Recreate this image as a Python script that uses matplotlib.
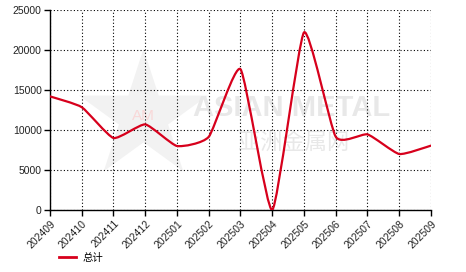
import matplotlib
matplotlib.use("Agg")
import matplotlib.pyplot as plt
from matplotlib.path import Path
from matplotlib.patches import PathPatch
from matplotlib.lines import Line2D

categories = ["202409", "202410", "202411", "202412", "202501", "202502", "202503",
              "202504", "202505", "202506", "202507", "202508", "202509"]
values = [14200, 12850, 9000, 10700, 8000, 9150, 17600, 0, 22200, 9150, 9450, 7000, 8050]
series_name = "总计"
yticks = [0, 5000, 10000, 15000, 20000, 25000]

LINE_COLOR = "#d7001c"


def spline_path(xs, ys, k=0.085):
    """Cardinal spline drawn as cubic Bezier segments through the data points."""
    n = len(xs)
    verts = [(xs[0], ys[0])]
    codes = [Path.MOVETO]
    for i in range(n - 1):
        i0 = max(i - 1, 0)
        i3 = min(i + 2, n - 1)
        c1 = (xs[i] + (xs[i + 1] - xs[i0]) * k, ys[i] + (ys[i + 1] - ys[i0]) * k)
        c2 = (xs[i + 1] - (xs[i3] - xs[i]) * k, ys[i + 1] - (ys[i3] - ys[i]) * k)
        verts += [c1, c2, (xs[i + 1], ys[i + 1])]
        codes += [Path.CURVE4, Path.CURVE4, Path.CURVE4]
    return Path(verts, codes)


fig = plt.figure(figsize=(4.66, 2.72), dpi=100)
ax = fig.add_axes([50 / 466, 62 / 272, 381 / 466, 200 / 272])

xs = list(range(len(categories)))

# watermark
ax.scatter([0.245], [0.47], marker="*", s=9500, color="#f2f2f2", transform=ax.transAxes,
           zorder=0, linewidths=0)
ax.text(0.245, 0.47, "AM", transform=ax.transAxes, ha="center", va="center",
        fontsize=11, color="#f9d8d8", zorder=0, family="Liberation Sans")
ax.text(0.635, 0.51, "ASIAN METAL", transform=ax.transAxes, ha="center", va="center",
        fontsize=21, color="#e8e8e8", zorder=0, family="Liberation Sans", fontweight="bold")
ax.text(0.64, 0.34, "亚洲金属网", transform=ax.transAxes, ha="center", va="center",
        fontsize=16, color="#e8e8e8", zorder=0, family=["Noto Sans CJK SC", "DejaVu Sans"])

patch = PathPatch(spline_path(xs, values), facecolor="none", edgecolor=LINE_COLOR,
                  linewidth=1.6, zorder=3, capstyle="round", joinstyle="round")
ax.add_patch(patch)

ax.set_xlim(0, len(categories) - 1)
ax.set_ylim(0, 25000)
ax.set_xticks(xs)
ax.set_xticklabels(categories, rotation=45, ha="right", rotation_mode="anchor")
ax.set_yticks(yticks)
ax.set_yticklabels([str(v) for v in yticks])

ax.grid(True, color="black", linestyle=(0, (1, 2)), linewidth=0.8)
ax.set_axisbelow(True)
for s in ["top", "right"]:
    ax.spines[s].set_visible(False)
for s in ["left", "bottom"]:
    ax.spines[s].set_linewidth(1.0)
    ax.spines[s].set_color("black")
ax.tick_params(axis="both", direction="out", length=4, width=1, colors="black",
               labelsize=7.5, pad=2)
for lab in ax.get_xticklabels() + ax.get_yticklabels():
    lab.set_family("Liberation Sans")
    lab.set_color("#222222")

handle = Line2D([], [], color=LINE_COLOR, linewidth=2)
leg = fig.legend([handle], [series_name], loc="lower left", bbox_to_anchor=(50 / 466, 0.0),
                 frameon=False, handlelength=1.6, handletextpad=0.6,
                 prop={"family": ["Noto Sans CJK SC", "DejaVu Sans"], "size": 7.5})

fig.savefig("out.png", dpi=100)
